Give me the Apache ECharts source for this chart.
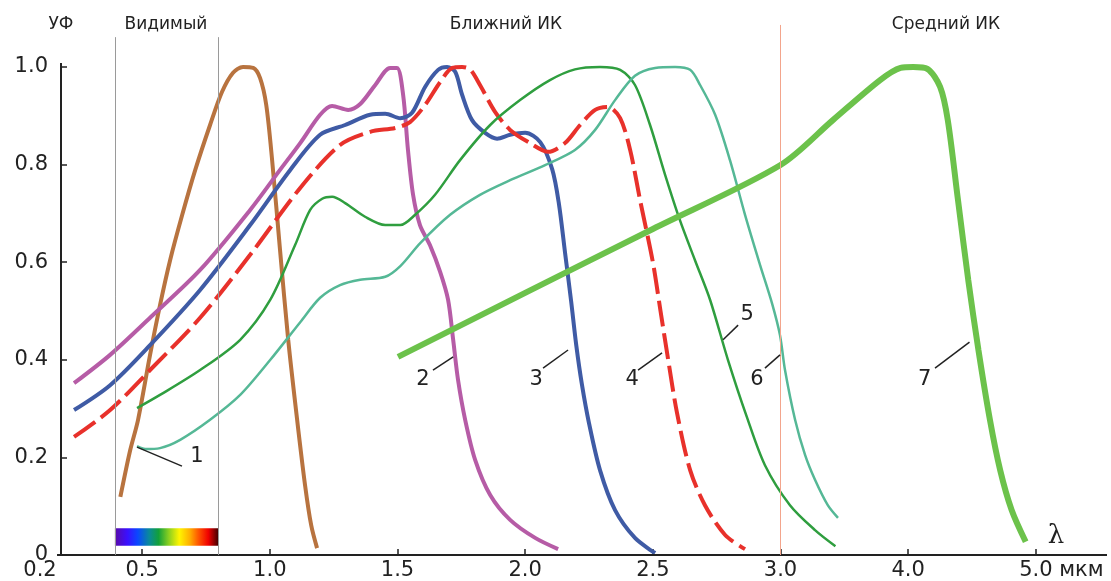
<!DOCTYPE html>
<html><head><meta charset="utf-8">
<script src="https://cdn.jsdelivr.net/npm/echarts@6/dist/echarts.min.js"></script>
<style>html,body{margin:0;padding:0;background:#fff}#c{width:1111px;height:581px}</style>
</head><body><div id="c"></div>
<script>
// ---- axis ticks / labels (wavelength, µm) ----
const tickLambdas = [0.2, 0.5, 1.0, 1.5, 2.0, 2.5, 3.0, 4.0, 5.0];
const tickLabels  = ['0.2', '0.5', '1.0', '1.5', '2.0', '2.5', '3.0', '4.0', '5.0'];
const yTicks      = [0, 0.2, 0.4, 0.6, 0.8, 1.0];
const yTickLabels = ['0', '0.2', '0.4', '0.6', '0.8', '1.0'];
const regionNames = ['УФ', 'Видимый', 'Ближний ИК', 'Средний ИК'];
const visibleRange = [0.42, 0.80];
const midIrBoundary = 3.0;
const unitLabel = 'мкм';
const lambdaSymbol = 'λ';

// ---- curves: [wavelength µm, relative sensitivity] ----
const curve1 = [[0.436,0.119],[0.465,0.215],[0.488,0.277],[0.531,0.410],[0.570,0.512],[0.610,0.605],[0.657,0.697],[0.708,0.789],[0.766,0.881],[0.813,0.949],[0.856,0.988],[0.895,1.0],[0.935,0.998],[0.962,0.977],[0.986,0.922],[1.009,0.809],[1.040,0.625],[1.072,0.441],[1.107,0.277],[1.138,0.143],[1.162,0.061],[1.185,0.014]];
const curve2 = [[0.30,0.352],[0.406,0.410],[0.531,0.486],[0.727,0.584],[0.923,0.707],[1.040,0.789],[1.119,0.844],[1.197,0.902],[1.244,0.920],[1.307,0.912],[1.354,0.924],[1.413,0.963],[1.471,0.998],[1.498,0.998],[1.522,0.943],[1.541,0.830],[1.561,0.738],[1.588,0.676],[1.627,0.635],[1.667,0.580],[1.698,0.523],[1.718,0.441],[1.737,0.359],[1.765,0.277],[1.804,0.195],[1.863,0.123],[1.941,0.072],[2.039,0.035],[2.129,0.012]];
const curve3 = [[0.30,0.297],[0.406,0.348],[0.531,0.430],[0.727,0.543],[0.923,0.676],[1.080,0.789],[1.197,0.861],[1.295,0.881],[1.393,0.902],[1.452,0.904],[1.511,0.895],[1.557,0.906],[1.608,0.959],[1.659,0.994],[1.694,1.0],[1.726,0.99],[1.753,0.943],[1.792,0.891],[1.843,0.865],[1.890,0.853],[1.941,0.861],[2.000,0.865],[2.059,0.846],[2.106,0.790],[2.132,0.720],[2.156,0.620],[2.180,0.520],[2.200,0.430],[2.222,0.350],[2.250,0.270],[2.293,0.174],[2.352,0.092],[2.430,0.035],[2.509,0.004]];
const curve4 = [[0.30,0.242],[0.406,0.297],[0.531,0.379],[0.727,0.486],[0.923,0.615],[1.119,0.752],[1.275,0.840],[1.393,0.867],[1.491,0.875],[1.549,0.887],[1.608,0.922],[1.667,0.969],[1.714,0.998],[1.753,1.0],[1.784,0.995],[1.823,0.963],[1.882,0.908],[1.941,0.871],[2.019,0.844],[2.090,0.826],[2.156,0.844],[2.215,0.881],[2.274,0.912],[2.325,0.918],[2.372,0.895],[2.411,0.830],[2.450,0.727],[2.500,0.600],[2.530,0.500],[2.560,0.400],[2.595,0.290],[2.646,0.174],[2.704,0.102],[2.783,0.041],[2.861,0.012]];
const curve5 = [[0.485,0.301],[0.570,0.328],[0.727,0.379],[0.884,0.441],[1.002,0.523],[1.099,0.635],[1.158,0.707],[1.205,0.730],[1.244,0.734],[1.295,0.721],[1.373,0.693],[1.452,0.676],[1.511,0.676],[1.569,0.697],[1.647,0.738],[1.745,0.809],[1.863,0.881],[1.980,0.932],[2.097,0.973],[2.195,0.995],[2.293,1.0],[2.372,0.994],[2.430,0.963],[2.489,0.881],[2.548,0.779],[2.606,0.686],[2.665,0.604],[2.724,0.523],[2.794,0.400],[2.868,0.283],[2.939,0.184],[3.074,0.102],[3.27,0.051],[3.43,0.018]];
const curve6 = [[0.485,0.223],[0.512,0.217],[0.570,0.219],[0.649,0.236],[0.766,0.277],[0.884,0.328],[1.002,0.400],[1.119,0.477],[1.197,0.527],[1.275,0.553],[1.354,0.564],[1.452,0.570],[1.511,0.592],[1.589,0.639],[1.706,0.697],[1.823,0.738],[1.941,0.768],[2.078,0.799],[2.195,0.830],[2.274,0.871],[2.352,0.932],[2.430,0.982],[2.509,0.998],[2.587,1.0],[2.646,0.994],[2.685,0.963],[2.744,0.902],[2.802,0.809],[2.861,0.697],[2.920,0.594],[2.967,0.515],[2.998,0.450],[3.035,0.379],[3.114,0.277],[3.192,0.205],[3.27,0.154],[3.37,0.102],[3.45,0.076]];
const curve7 = [[1.502,0.406],[2.0,0.537],[2.5,0.668],[3.0,0.799],[3.41,0.891],[3.78,0.973],[3.94,0.998],[4.04,1.0],[4.15,0.996],[4.25,0.959],[4.31,0.891],[4.39,0.727],[4.47,0.564],[4.55,0.420],[4.64,0.277],[4.72,0.174],[4.81,0.092],[4.92,0.027]];

const curveNames  = ['1', '2', '3', '4', '5', '6', '7'];
const curveColors = ['#b8733f', '#b65ca6', '#3f5ba5', '#e8312b', '#2f9e3f', '#55b896', '#6cc24b'];
// number label anchor [λ, v] and leader line [[λ, v], [λ, v]]
const labelPos = [[0.715,0.201],[1.600,0.359],[2.043,0.359],[2.419,0.359],[2.869,0.492],[2.908,0.359],[4.13,0.359]];
const leaders  = [
  [[0.485,0.221],[0.656,0.182]],
  [[1.718,0.406],[1.639,0.379]],
  [[2.168,0.420],[2.070,0.383]],
  [[2.536,0.414],[2.442,0.379]],
  [[2.834,0.471],[2.775,0.441]],
  [[2.998,0.410],[2.939,0.383]],
  [[4.48,0.436],[4.21,0.383]]
];

// ---- non-linear wavelength scale of the original figure ----
function toU(l) {
  if (l <= 0.5) return 0.2 + (l - 0.2) / 0.3 * 0.8;
  if (l <= 3) return 1 + (l - 0.5) * 2;
  return 6 + (l - 3);
}
const xMinL = 0.2, xMaxL = 5.557, yAxisAtL = 0.262, xLineStartL = 0.25;
const yMax = 1.09, yAxisTop = 1.008, grayTop = 1.061, orangeTop = 1.086;
const spectrumY = [0.019, 0.055];

const FONT = 'DejaVu Sans';
const tx = p => [toU(p[0]), p[1]];

const curves = [curve1, curve2, curve3, curve4, curve5, curve6, curve7];
const widths = [4, 4, 4, 4, 2.5, 2.5, 6];
const series = curves.map((c, i) => ({
  type: 'line', name: curveNames[i], data: c.map(tx), showSymbol: false, smooth: 0.3,
  lineStyle: { color: curveColors[i], width: widths[i], type: i === 3 ? [26, 7] : 'solid', cap: 'butt' },
  z: 3, silent: true
}));

// annotation layer
series.push({
  type: 'line', data: [[toU(xMinL), 0]], showSymbol: false, lineStyle: { opacity: 0 }, silent: true, z: 2,
  markArea: {
    silent: true,
    itemStyle: {
      opacity: 1,
      color: { type: 'linear', x: 0, y: 0, x2: 1, y2: 0, colorStops: [
        { offset: 0, color: '#5a0aa8' }, { offset: 0.12, color: '#3a10ff' }, { offset: 0.22, color: '#0a48ff' },
        { offset: 0.33, color: '#0a8a9a' }, { offset: 0.42, color: '#12a03a' }, { offset: 0.52, color: '#8cd020' },
        { offset: 0.62, color: '#fff500' }, { offset: 0.72, color: '#ffb000' }, { offset: 0.8, color: '#ff5a00' },
        { offset: 0.9, color: '#f00000' }, { offset: 1, color: '#3a0000' } ] }
    },
    data: [[{ coord: [toU(visibleRange[0]), spectrumY[0]] }, { coord: [toU(visibleRange[1]), spectrumY[1]] }]]
  },
  markLine: {
    silent: true, symbol: ['none', 'none'], animation: false, label: { show: false },
    data: [
      [{ coord: [toU(yAxisAtL), 0], lineStyle: { color: '#222', width: 2, type: 'solid' } }, { coord: [toU(yAxisAtL), yAxisTop] }],
      [{ coord: [toU(xLineStartL), 0], lineStyle: { color: '#222', width: 2, type: 'solid' } }, { coord: [toU(xMaxL), 0] }],
      [{ coord: [toU(visibleRange[0]), 0], lineStyle: { color: '#9a9a9a', width: 1, type: 'solid' } }, { coord: [toU(visibleRange[0]), grayTop] }],
      [{ coord: [toU(visibleRange[1]), 0], lineStyle: { color: '#9a9a9a', width: 1, type: 'solid' } }, { coord: [toU(visibleRange[1]), grayTop] }],
      [{ coord: [toU(midIrBoundary), 0], lineStyle: { color: '#f3a58c', width: 1, type: 'solid' } }, { coord: [toU(midIrBoundary), orangeTop] }]
    ].concat(leaders.map(l => [
      { coord: tx(l[0]), lineStyle: { color: '#222', width: 1.5, type: 'solid' } }, { coord: tx(l[1]) }
    ]))
  },
  markPoint: {
    silent: true, symbol: 'rect', symbolSize: 1, itemStyle: { color: 'rgba(0,0,0,0)' }, animation: false,
    label: { show: true, position: 'inside', formatter: '{b}', color: '#222', fontSize: 21, fontFamily: FONT },
    data: labelPos.map((p, i) => ({ name: curveNames[i], coord: tx(p) }))
  }
});

const headerFont = '17px "DejaVu Sans"';
const chart = echarts.init(document.getElementById('c'), null, { renderer: 'canvas' });
chart.setOption({
  animation: false,
  backgroundColor: '#fff',
  grid: { left: 40, right: 4, top: 23, bottom: 26, containLabel: false, outerBoundsMode: 'none' },
  xAxis: {
    type: 'value', min: toU(xMinL), max: toU(xMaxL),
    axisLine: { show: false }, splitLine: { show: false },
    axisTick: { show: true, inside: true, length: 6, customValues: tickLambdas.slice(1).map(toU), lineStyle: { color: '#222', width: 1.5 } },
    axisLabel: {
      customValues: tickLambdas.map(toU), margin: 5, color: '#222', fontSize: 21, fontFamily: FONT,
      formatter: v => {
        const i = tickLambdas.findIndex(l => Math.abs(toU(l) - v) < 1e-6);
        if (i < 0) return '';
        if (i === tickLambdas.length - 1) return '{h| ' + unitLabel + '}{n|' + tickLabels[i] + ' ' + unitLabel + '}';
        return tickLabels[i];
      },
      rich: { h: { color: 'rgba(0,0,0,0)', fontSize: 21, fontFamily: FONT }, n: { color: '#222', fontSize: 21, fontFamily: FONT } }
    }
  },
  yAxis: {
    type: 'value', min: 0, max: yMax, offset: -21,
    axisLine: { show: false }, splitLine: { show: false },
    axisTick: { show: true, inside: true, length: 6, customValues: yTicks.slice(1), lineStyle: { color: '#222', width: 1.5 } },
    axisLabel: {
      customValues: yTicks, margin: 13, color: '#222', fontSize: 21, fontFamily: FONT,
      formatter: v => { const i = yTicks.findIndex(t => Math.abs(t - v) < 1e-6); return i < 0 ? '' : yTickLabels[i]; }
    }
  },
  graphic: [
    { type: 'text', x: 61, y: 25, style: { text: regionNames[0], fill: '#222', font: headerFont, align: 'center', verticalAlign: 'middle' } },
    { type: 'text', x: 166, y: 25, style: { text: regionNames[1], fill: '#222', font: headerFont, align: 'center', verticalAlign: 'middle' } },
    { type: 'text', x: 506, y: 25, style: { text: regionNames[2], fill: '#222', font: headerFont, align: 'center', verticalAlign: 'middle' } },
    { type: 'text', x: 946, y: 25, style: { text: regionNames[3], fill: '#222', font: headerFont, align: 'center', verticalAlign: 'middle' } },
    { type: 'text', x: 1056, y: 536, style: { text: lambdaSymbol, fill: '#222', font: '26px "DejaVu Serif"', align: 'center', verticalAlign: 'middle' } }
  ],
  series: series
});
</script></body></html>
